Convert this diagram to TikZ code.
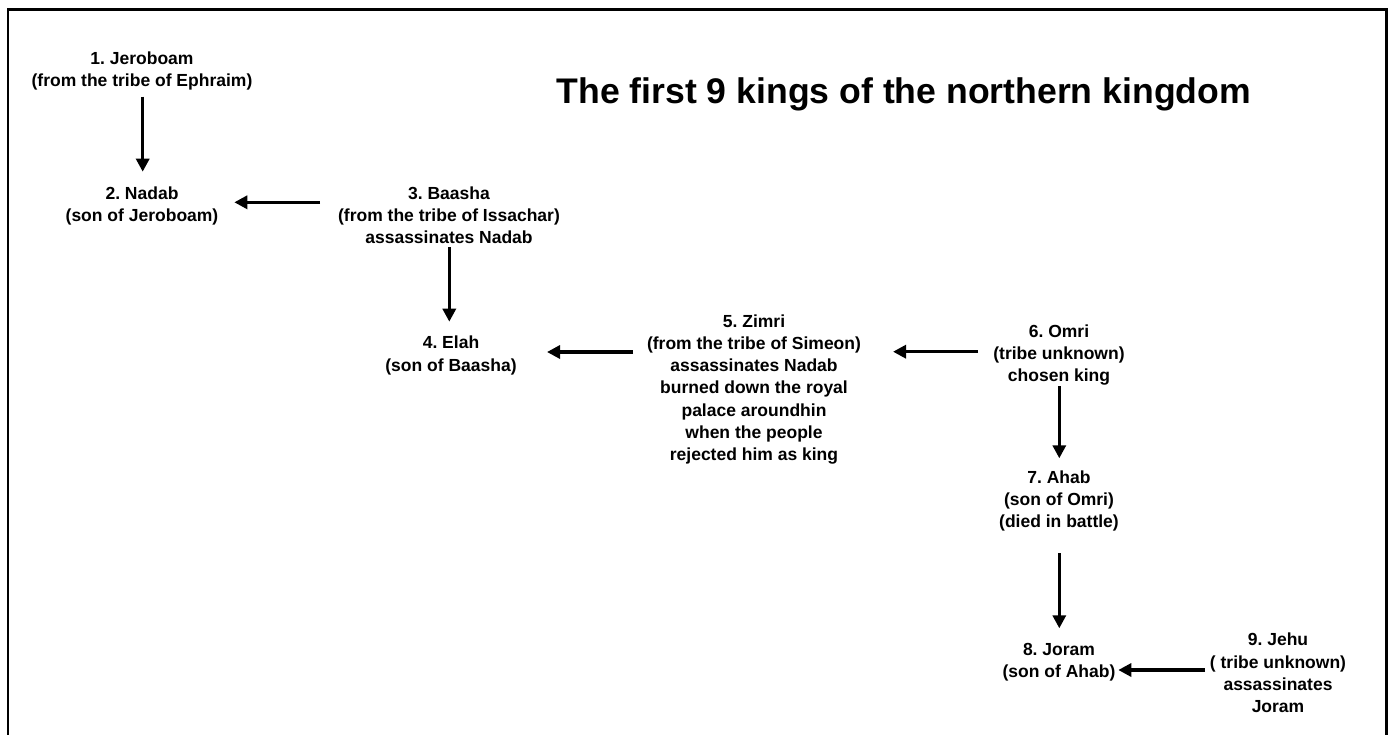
\documentclass[tikz,border=0pt]{standalone}
\usepackage{fontspec}
\setmainfont{Liberation Sans}
\usetikzlibrary{arrows.meta}
\frenchspacing
\tikzset{
  king/.style={align=center, inner sep=0pt, font=\fontsize{17.5}{22.2}\selectfont\bfseries},
  heading/.style={inner sep=0pt, anchor=base, font=\fontsize{35.6}{40}\selectfont\bfseries},
  arr/.style={line width=3.2pt, -{Triangle[length=13pt,width=13pt]}},
  frame/.style={line width=2.7pt, line join=miter}
}
\begin{document}
\begin{tikzpicture}[x=1pt,y=-1pt]
\useasboundingbox (0,0) rectangle (1390,734);
\draw[frame] (8,740) -- (8,9.7) -- (1386.5,9.7) -- (1386.5,740);
\node[heading] (title) at (903.8,103.3) {The first 9 kings of the northern kingdom};
\node[king] (j1) at (142,71) {1. Jeroboam\\(from the tribe of Ephraim)};
\node[king] (n2) at (142,206) {2. Nadab\\(son of Jeroboam)};
\node[king] (b3) at (449,215) {3. Baasha\\(from the tribe of Issachar)\\assassinates Nadab};
\node[king] (e4) at (451,355.5) {4. Elah\\(son of Baasha)};
\node[king] (z5) at (754,389.5) {5. Zimri\\(from the tribe of Simeon)\\assassinates Nadab\\burned down the royal\\palace aroundhin\\when the people\\rejected him as king};
\node[king] (o6) at (1059,355) {6. Omri\\(tribe unknown)\\chosen king};
\node[king] (a7) at (1059,501) {7. Ahab\\(son of Omri)\\(died in battle)};
\node[king] (jo8) at (1059,662) {8. Joram\\(son of Ahab)};
\node[king] (je9) at (1278,673) {9. Jehu\\( tribe unknown)\\assassinates\\Joram};
\draw[arr] ([shift={(0.7,25.7)}]j1.center) -- ([shift={(0.7,-34.3)}]n2.center);
\draw[arr] ([shift={(-129,-12.7)}]b3.center) -- ([shift={(92.3,-3.7)}]n2.center);
\draw[arr] ([shift={(0.3,32.3)}]b3.center) -- ([shift={(-1.7,-33.8)}]e4.center);
\draw[arr] ([shift={(-121,-37.5)}]z5.center) -- ([shift={(96,-3.5)}]e4.center);
\draw[arr] ([shift={(-81,-3.3)}]o6.center) -- ([shift={(139,-37.8)}]z5.center);
\draw[arr] ([shift={(0.3,31)}]o6.center) -- ([shift={(0.3,-42.7)}]a7.center);
\draw[arr] ([shift={(0.3,52)}]a7.center) -- ([shift={(0.3,-33.7)}]jo8.center);
\draw[arr] ([shift={(-73,-3)}]je9.center) -- ([shift={(59.3,8)}]jo8.center);
\end{tikzpicture}
\end{document}
